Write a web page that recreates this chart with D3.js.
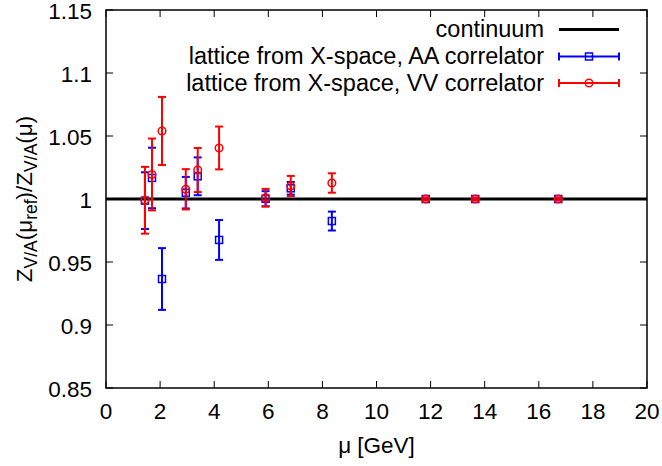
<!DOCTYPE html>
<html><head><meta charset="utf-8">
<script src="https://cdn.jsdelivr.net/npm/d3@7"></script>
<style>body{margin:0;background:#fff}svg{display:block}text{font-family:"Liberation Sans",Arial,sans-serif;}</style>
</head><body><svg id="c" width="662" height="466"></svg>
<script>
const mu    = [1.44, 1.70, 2.07, 2.95, 3.39, 4.18, 5.90, 6.83, 8.35, 11.82, 13.65, 16.72];
const aa    = [0.9987, 1.0167, 0.9365, 1.005, 1.018, 0.9675, 1.0002, 1.0085, 0.9825, 1.0, 1.0, 1.0];
const aaErr = [0.0225, 0.024, 0.0245, 0.0125, 0.015, 0.0158, 0.006, 0.005, 0.0075, 0.001, 0.001, 0.001];
const vv    = [0.999, 1.0195, 1.054, 1.0077, 1.023, 1.0405, 1.001, 1.0103, 1.0127, 1.0, 1.0, 1.0];
const vvErr = [0.0265, 0.0285, 0.027, 0.016, 0.0175, 0.017, 0.007, 0.008, 0.0077, 0.001, 0.001, 0.001];
const xTicks = [0,2,4,6,8,10,12,14,16,18,20];
const yTicks = [0.85,0.9,0.95,1,1.05,1.1,1.15];
const yTickLabels = ["0.85","0.9","0.95","1","1.05","1.1","1.15"];
const legendLabels = ["continuum","lattice from X-space, AA correlator","lattice from X-space, VV correlator"];

const L=106, R=647, T=10, B=388;
const svg=d3.select("#c");
const x=d3.scaleLinear().domain([0,20]).range([L,R]);
const y=d3.scaleLinear().domain([0.85,1.15]).range([B,T]);
const fs=22.5, sfs=17.5;

// ticks (inward, all four sides)
const tl=7;
const g=svg.append("g").attr("stroke","#000").attr("stroke-width",1);
xTicks.forEach(t=>{
  g.append("line").attr("x1",x(t)).attr("x2",x(t)).attr("y1",B).attr("y2",B-tl);
  g.append("line").attr("x1",x(t)).attr("x2",x(t)).attr("y1",T).attr("y2",T+tl);
});
yTicks.forEach(t=>{
  g.append("line").attr("x1",L).attr("x2",L+tl).attr("y1",y(t)).attr("y2",y(t));
  g.append("line").attr("x1",R).attr("x2",R-tl).attr("y1",y(t)).attr("y2",y(t));
});
xTicks.forEach(t=>svg.append("text").attr("x",x(t)).attr("y",B+31).attr("text-anchor","middle").attr("font-size",fs).text(t));
yTicks.forEach((t,i)=>svg.append("text").attr("x",L-14).attr("y",y(t)+8.5).attr("text-anchor","end").attr("font-size",fs).text(yTickLabels[i]));

// axis labels
svg.append("text").attr("x",(L+R)/2).attr("y",453).attr("text-anchor","middle").attr("font-size",fs).text("μ [GeV]");
const yl=svg.append("text").attr("transform",`translate(32,${(T+B)/2}) rotate(-90)`).attr("text-anchor","middle").attr("font-size",fs);
yl.append("tspan").text("Z");
yl.append("tspan").attr("font-size",sfs).attr("dy",5).text("V/A");
yl.append("tspan").attr("dy",-5).text("(μ");
yl.append("tspan").attr("font-size",sfs).attr("dy",5).text("ref");
yl.append("tspan").attr("dy",-5).text(")/Z");
yl.append("tspan").attr("font-size",sfs).attr("dy",5).text("V/A");
yl.append("tspan").attr("dy",-5).text("(μ)");

// continuum
svg.append("line").attr("x1",x(0)).attr("x2",x(20)).attr("y1",y(1)).attr("y2",y(1)).attr("stroke","#000").attr("stroke-width",3);

function series(vals,errs,color,shape){
  const s=svg.append("g").attr("stroke",color).attr("fill","none").attr("stroke-width",2);
  mu.forEach((m,i)=>{
    const cx=x(m), cy=y(vals[i]), y1=y(vals[i]+errs[i]), y2=y(vals[i]-errs[i]);
    s.append("line").attr("x1",cx).attr("x2",cx).attr("y1",y1).attr("y2",y2);
    s.append("line").attr("x1",cx-4).attr("x2",cx+4).attr("y1",y1).attr("y2",y1);
    s.append("line").attr("x1",cx-4).attr("x2",cx+4).attr("y1",y2).attr("y2",y2);
    if(shape==="sq") s.append("rect").attr("x",cx-3.5).attr("y",cy-3.5).attr("width",7).attr("height",7).attr("stroke-width",1.5);
    else s.append("circle").attr("cx",cx).attr("cy",cy).attr("r",3.8).attr("stroke-width",1.5);
  });
}
series(aa,aaErr,"#0000ff","sq");
series(vv,vvErr,"#ff0000","ci");

// legend
const lx1=559, lx2=619, ltx=544, ly=[29.5,56.5,83];
legendLabels.forEach((lab,i)=>svg.append("text").attr("x",ltx).attr("y",ly[i]+7.5).attr("text-anchor","end").attr("font-size",23.5).text(lab));
svg.append("line").attr("x1",lx1).attr("x2",lx2).attr("y1",ly[0]).attr("y2",ly[0]).attr("stroke","#000").attr("stroke-width",3);
[["#0000ff","sq"],["#ff0000","ci"]].forEach(([c,sh],k)=>{
  const yy=ly[k+1], gg=svg.append("g").attr("stroke",c).attr("fill","none").attr("stroke-width",2);
  gg.append("line").attr("x1",lx1).attr("x2",lx2).attr("y1",yy).attr("y2",yy);
  gg.append("line").attr("x1",lx1).attr("x2",lx1).attr("y1",yy-4).attr("y2",yy+4);
  gg.append("line").attr("x1",lx2).attr("x2",lx2).attr("y1",yy-4).attr("y2",yy+4);
  const mx=(lx1+lx2)/2;
  if(sh==="sq") gg.append("rect").attr("x",mx-3.5).attr("y",yy-3.5).attr("width",7).attr("height",7).attr("stroke-width",1.5);
  else gg.append("circle").attr("cx",mx).attr("cy",yy).attr("r",3.8).attr("stroke-width",1.5);
});

// frame
svg.append("rect").attr("x",L).attr("y",T).attr("width",R-L).attr("height",B-T).attr("fill","none").attr("stroke","#000").attr("stroke-width",1.5);
</script></body></html>
